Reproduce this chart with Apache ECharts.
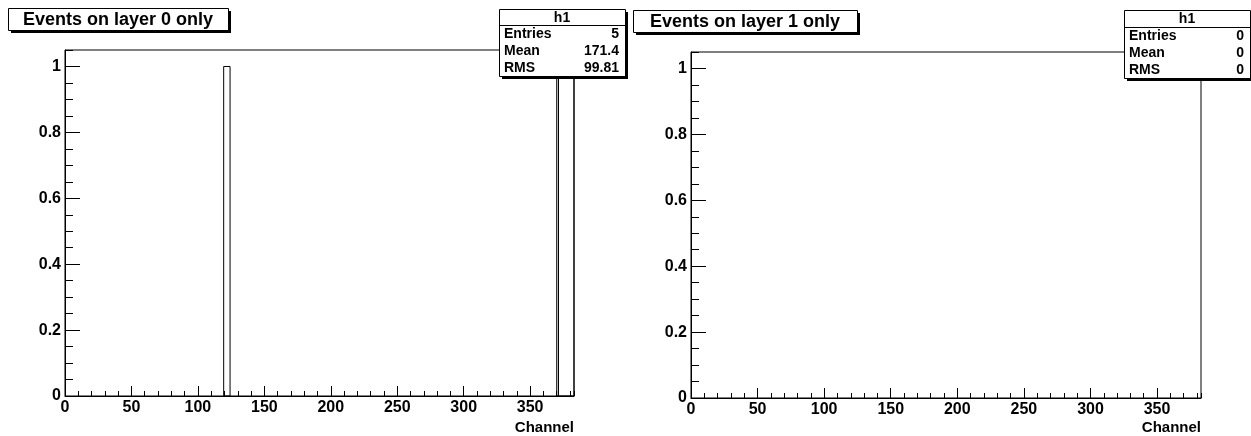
<!DOCTYPE html>
<html><head><meta charset="utf-8">
<script src="https://cdn.jsdelivr.net/npm/echarts@6/dist/echarts.min.js"></script>
<style>html,body{margin:0;padding:0;background:#fff}#c{width:1251px;height:436px}</style>
</head><body><div id="c"></div>
<script>
// ---- data ----
const titles = ['Events on layer 0 only', 'Events on layer 1 only'];
const histName = 'h1';
const statNames = ['Entries', 'Mean', 'RMS'];
const stats0 = ['5', '171.4', '99.81'];
const stats1 = ['0', '0', '0'];
const xTitle = 'Channel';
const xMin = 0, xMax = 383, xMajor = 50, xMinor = 10;
const yMin = 0, yMax = 1.05, yMajor = 0.2, yMinor = 0.05;
// histogram bins (low edge, high edge, content)
const binLow0 = [119.4, 370.0, 371.3];
const binHigh0 = [124.2, 371.3, 383.0];
const counts0 = [1, 1, 1];
const binLow1 = [];
const binHigh1 = [];
const counts1 = [];

// ---- chart ----
const FONT = '"Liberation Sans", Arial, Helvetica, sans-serif';
const chart = echarts.init(document.getElementById('c'), null, {renderer: 'canvas'});

const grids = [
  {left: 65, top: 50, width: 509, height: 346},
  {left: 691, top: 52, width: 510, height: 346}
];
const nameGaps = [24, 22];

const xAxes = [], yAxes = [];
grids.forEach((g, i) => {
  xAxes.push({
    gridIndex: i, type: 'value', min: xMin, max: xMax, interval: xMajor, position: 'bottom',
    axisLine: {show: true, onZero: false, lineStyle: {color: '#000', width: 1}},
    axisTick: {show: true, inside: true, length: 10, lineStyle: {color: '#000', width: 1}},
    axisLabel: {show: true, showMaxLabel: false, margin: 4, color: '#000', fontWeight: 'bold', fontSize: 16, fontFamily: FONT},
    splitLine: {show: false},
    name: xTitle, nameLocation: 'end', nameGap: 0,
    nameTextStyle: {align: 'right', verticalAlign: 'top', padding: [nameGaps[i], 0, 0, 0], color: '#000', fontWeight: 'bold', fontSize: 15, fontFamily: FONT}
  });
  xAxes.push({
    gridIndex: i, type: 'value', min: xMin, max: xMax, interval: xMinor, position: 'bottom',
    axisLine: {show: false, onZero: false},
    axisTick: {show: true, inside: true, length: 5, lineStyle: {color: '#000', width: 1}},
    axisLabel: {show: false}, splitLine: {show: false}
  });
  yAxes.push({
    gridIndex: i, type: 'value', min: yMin, max: yMax, interval: yMajor, position: 'left',
    axisLine: {show: true, onZero: false, lineStyle: {color: '#000', width: 1}},
    axisTick: {show: true, inside: true, length: 15, lineStyle: {color: '#000', width: 1}},
    axisLabel: {show: true, showMaxLabel: false, margin: 4, color: '#000', fontWeight: 'bold', fontSize: 16, fontFamily: FONT},
    splitLine: {show: false}
  });
  yAxes.push({
    gridIndex: i, type: 'value', min: yMin, max: yMax, interval: yMinor, position: 'left',
    axisLine: {show: false, onZero: false},
    axisTick: {show: true, inside: true, length: 8, lineStyle: {color: '#000', width: 1}},
    axisLabel: {show: false}, splitLine: {show: false}
  });
});

function histSeries(i, lows, highs, counts) {
  return {
    type: 'custom', xAxisIndex: 2 * i, yAxisIndex: 2 * i, z: 5,
    data: lows.map((lo, k) => [lo, highs[k], counts[k]]),
    renderItem: function (params, api) {
      const p0 = api.coord([api.value(0), 0]);
      const p1 = api.coord([api.value(1), api.value(2)]);
      return {
        type: 'rect',
        shape: {x: p0[0], y: p1[1], width: p1[0] - p0[0], height: p0[1] - p1[1]},
        style: {fill: 'none', stroke: '#000', lineWidth: 1}
      };
    }
  };
}

function boxWithShadow(x, y, w, h) {
  return [
    {type: 'rect', z: 100, shape: {x: x + 3, y: y + 3, width: w, height: h}, style: {fill: '#000'}},
    {type: 'rect', z: 101, shape: {x: x + 0.5, y: y + 0.5, width: w, height: h}, style: {fill: '#fff', stroke: '#000', lineWidth: 1}}
  ];
}
function txt(text, x, y, align, size) {
  return {type: 'text', z: 102, style: {text: text, x: x, y: y, textAlign: align, textVerticalAlign: 'middle',
    fill: '#000', font: 'bold ' + size + 'px ' + FONT}};
}

const graphics = [];
// titles
const titleBoxes = [{x: 8, y: 8, w: 220, h: 22}, {x: 633, y: 10, w: 224, h: 22}];
titles.forEach((t, i) => {
  const b = titleBoxes[i];
  graphics.push(...boxWithShadow(b.x, b.y, b.w, b.h));
  graphics.push(txt(t, b.x + b.w / 2, b.y + b.h / 2 + 1, 'center', 18));
});
// stats boxes
const statBoxes = [{x: 499, y: 9, w: 126, h: 67, sep: 25}, {x: 1124, y: 10, w: 126, h: 68, sep: 27}];
[stats0, stats1].forEach((vals, i) => {
  const b = statBoxes[i];
  graphics.push(...boxWithShadow(b.x, b.y, b.w, b.h));
  graphics.push({type: 'line', z: 102, shape: {x1: b.x, y1: b.sep + 0.5, x2: b.x + b.w, y2: b.sep + 0.5}, style: {stroke: '#000', lineWidth: 1}});
  graphics.push(txt(histName, b.x + b.w / 2, (b.y + b.sep) / 2 + 1, 'center', 14));
  const rowH = (b.y + b.h - b.sep) / 3;
  statNames.forEach((n, k) => {
    const yy = b.sep + rowH * (k + 0.5) + 1;
    graphics.push(txt(n, b.x + 5, yy, 'left', 14));
    graphics.push(txt(vals[k], b.x + b.w - 6, yy, 'right', 14));
  });
});

chart.setOption({
  animation: false,
  backgroundColor: '#fff',
  grid: grids.map(g => Object.assign({show: true, borderColor: '#000', borderWidth: 1, backgroundColor: 'transparent', containLabel: false}, g)),
  xAxis: xAxes,
  yAxis: yAxes,
  series: [histSeries(0, binLow0, binHigh0, counts0), histSeries(1, binLow1, binHigh1, counts1)],
  graphic: {elements: graphics}
});
</script>
</body></html>
